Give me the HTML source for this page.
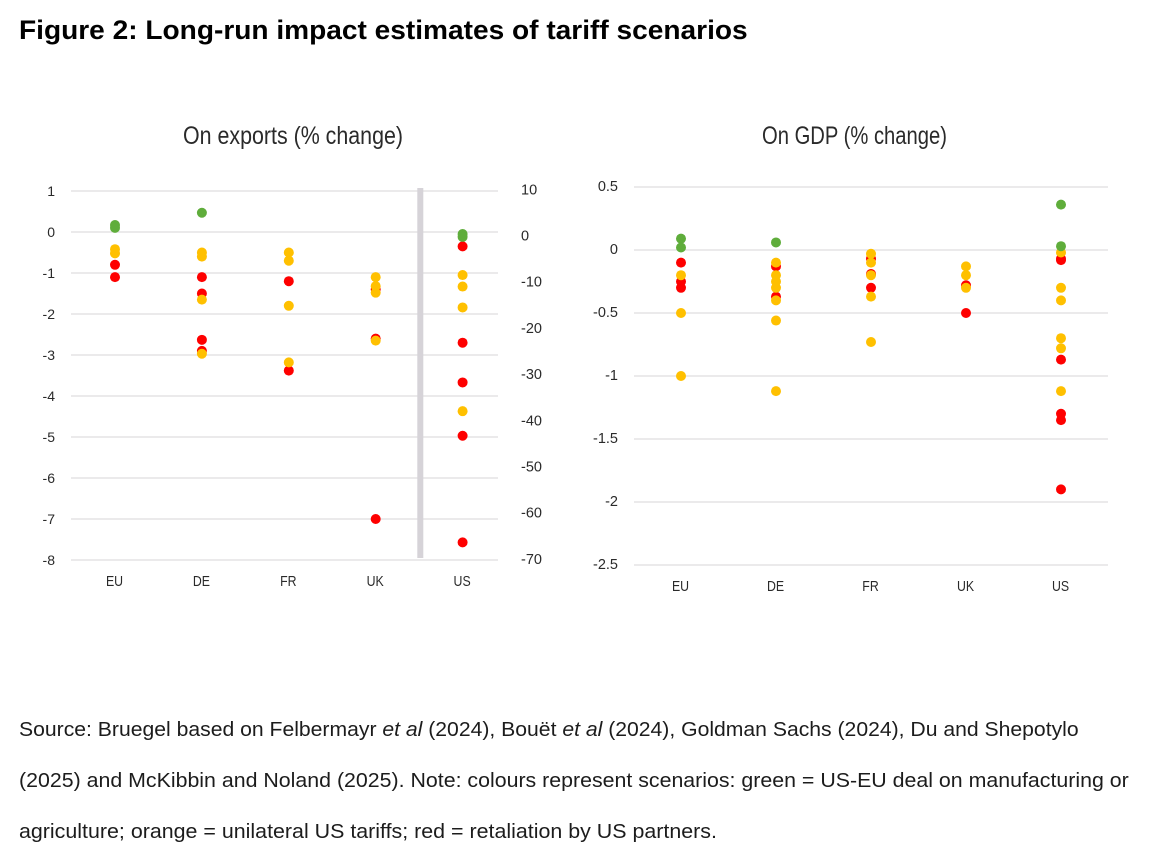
<!DOCTYPE html>
<html lang="en">
<head>
<meta charset="utf-8">
<title>Figure 2: Long-run impact estimates of tariff scenarios</title>
<style>
html,body{margin:0;padding:0;background:#fff;}
body{position:relative;width:1162px;height:860px;overflow:hidden;font-family:"Liberation Sans",sans-serif;color:#111;}
#figure-title{position:absolute;left:19px;top:14px;margin:0;font-size:27px;line-height:32px;font-weight:700;color:#000;white-space:nowrap;transform:scaleX(1.04);transform-origin:0 0;}
.src{position:absolute;left:19px;font-size:20.5px;line-height:26px;color:#1c1c1c;white-space:nowrap;transform-origin:0 0;}
svg{position:absolute;left:0;top:0;}
</style>
</head>
<body>
<h1 id="figure-title">Figure 2: Long-run impact estimates of tariff scenarios</h1>
<svg id="chart" width="1162" height="860" viewBox="0 0 1162 860"></svg>
<div class="src" style="top:717px;transform:scaleX(1.032)">Source: Bruegel based on Felbermayr <i>et al</i> (2024), Bouët <i>et al</i> (2024), Goldman Sachs (2024), Du and Shepotylo</div>
<div class="src" style="top:768px;transform:scaleX(1.041)">(2025) and McKibbin and Noland (2025). Note: colours represent scenarios: green = US-EU deal on manufacturing or</div>
<div class="src" style="top:819px;transform:scaleX(1.044)">agriculture; orange = unilateral US tariffs; red = retaliation by US partners.</div>
<script>
const categories = ['EU','DE','FR','UK','US'];

const exportTicksLeft = [1,0,-1,-2,-3,-4,-5,-6,-7,-8];
const exportTicksRight = [10,0,-10,-20,-30,-40,-50,-60,-70];
const gdpTicks = [0.5,0,-0.5,-1,-1.5,-2,-2.5];

const exportsRed = [
  [-0.8,-1.1],
  [-1.1,-1.5,-2.63,-2.9],
  [-1.2,-3.38],
  [-1.4,-2.6,-7],
  [-0.35,-2.7,-3.67,-4.97,-7.57]
];
const exportsOrange = [
  [-0.42,-0.52],
  [-0.5,-0.6,-1.65,-2.97],
  [-0.5,-0.7,-1.8,-3.18],
  [-1.1,-1.32,-1.48,-2.65],
  [-1.05,-1.33,-1.84,-4.37]
];
const exportsGreen = [
  [0.17,0.1],
  [0.47],
  [],
  [],
  [-0.05,-0.12]
];

const gdpRed = [
  [-0.1,-0.25,-0.3],
  [-0.13,-0.37],
  [-0.07,-0.19,-0.3],
  [-0.28,-0.5],
  [-0.07,-0.08,-0.87,-1.3,-1.35,-1.9]
];
const gdpOrange = [
  [-0.2,-0.5,-1],
  [-0.1,-0.2,-0.25,-0.3,-0.4,-0.56,-1.12],
  [-0.03,-0.1,-0.2,-0.37,-0.73],
  [-0.13,-0.2,-0.3],
  [-0.02,-0.3,-0.4,-0.7,-0.78,-1.12]
];
const gdpGreen = [
  [0.09,0.02],
  [0.06],
  [],
  [],
  [0.36,0.03]
];

const NS = 'http://www.w3.org/2000/svg';
const svg = document.getElementById('chart');
const RED = '#fe0000', ORANGE = '#ffc000', GREEN = '#5fad3b', GRID = '#dfdddf';
const NARROW = '"Liberation Sans Narrow","Liberation Sans",sans-serif';

function exportY(v){ return 232 + (0 - v) * 41; }
function exportRightY(v){ return 236.5 + (0 - v) * 4.62; }
function exportX(i){ return 115 + i * 86.9; }
function gdpY(v){ return 250 + (0 - v) * 126; }
function gdpX(i){ return 681 + i * 95; }

function addLine(x1, x2, y, stroke, width, name){
  const el = document.createElementNS(NS, 'line');
  el.setAttribute('x1', x1);
  el.setAttribute('x2', x2);
  el.setAttribute('y1', y);
  el.setAttribute('y2', y);
  el.setAttribute('stroke', stroke);
  el.setAttribute('stroke-width', width);
  
  
  svg.appendChild(el);
}
function addText(str, x, y, anchor, size, name, length, squeeze){
  const el = document.createElementNS(NS, 'text');
  el.textContent = str;
  if (squeeze) {
    el.setAttribute('transform', 'translate(' + x + ' ' + y + ') scale(' + squeeze + ' 1)');
  } else {
    el.setAttribute('x', x);
    el.setAttribute('y', y);
  }
  el.setAttribute('text-anchor', anchor);
  el.setAttribute('font-size', size);
  el.setAttribute('font-family', NARROW);
  el.setAttribute('fill', '#2a2a2a');
  el.setAttribute('dominant-baseline', 'central');
  if (length) {
    el.setAttribute('textLength', length);
    el.setAttribute('lengthAdjust', 'spacingAndGlyphs');
  }
  
  
  svg.appendChild(el);
}
function addDots(series, xFn, yFn, colour, name){
  series.forEach(function(values, i){
    values.forEach(function(v){
      const c = document.createElementNS(NS, 'circle');
      c.setAttribute('cx', xFn(i));
      c.setAttribute('cy', yFn(v));
      c.setAttribute('r', 5);
      c.setAttribute('fill', colour);
      
      
      svg.appendChild(c);
    });
  });
}

/* left chart: exports */
addText('On exports (% change)', 183, 136, 'start', 25, 'exports-chart-title', 220);
exportTicksLeft.forEach(function(t){
  addLine(71, 498, exportY(t), GRID, 1.3, 'exports-gridline');
  addText(String(t), 55, exportY(t), 'end', 14, 'exports-left-tick-label');
});
exportTicksRight.forEach(function(t){
  addText(String(t), 521, exportRightY(t), 'start', 14.5, 'exports-right-tick-label');
});
categories.forEach(function(c, i){
  addText(c, exportX(i) - 0.5, 581, 'middle', 14.5, 'exports-category-label', null, 0.85);
});
const divider = document.createElementNS(NS, 'rect');
divider.setAttribute('x', 417.3);
divider.setAttribute('y', 188);
divider.setAttribute('width', 6);
divider.setAttribute('height', 370);
divider.setAttribute('fill', '#d6d3d8');


svg.appendChild(divider);
addDots(exportsRed, exportX, exportY, RED, 'exports-dot-retaliation');
addDots(exportsOrange, exportX, exportY, ORANGE, 'exports-dot-unilateral');
addDots(exportsGreen, exportX, exportY, GREEN, 'exports-dot-deal');

/* right chart: GDP */
addText('On GDP (% change)', 762, 136, 'start', 25, 'gdp-chart-title', 185);
gdpTicks.forEach(function(t){
  addLine(634, 1108, gdpY(t), GRID, 1.3, 'gdp-gridline');
  addText(String(t), 618, gdpY(t), 'end', 14.5, 'gdp-tick-label');
});
categories.forEach(function(c, i){
  addText(c, gdpX(i) - 0.5, 586, 'middle', 14.5, 'gdp-category-label', null, 0.85);
});
addDots(gdpRed, gdpX, gdpY, RED, 'gdp-dot-retaliation');
addDots(gdpOrange, gdpX, gdpY, ORANGE, 'gdp-dot-unilateral');
addDots(gdpGreen, gdpX, gdpY, GREEN, 'gdp-dot-deal');
</script>
</body>
</html>
